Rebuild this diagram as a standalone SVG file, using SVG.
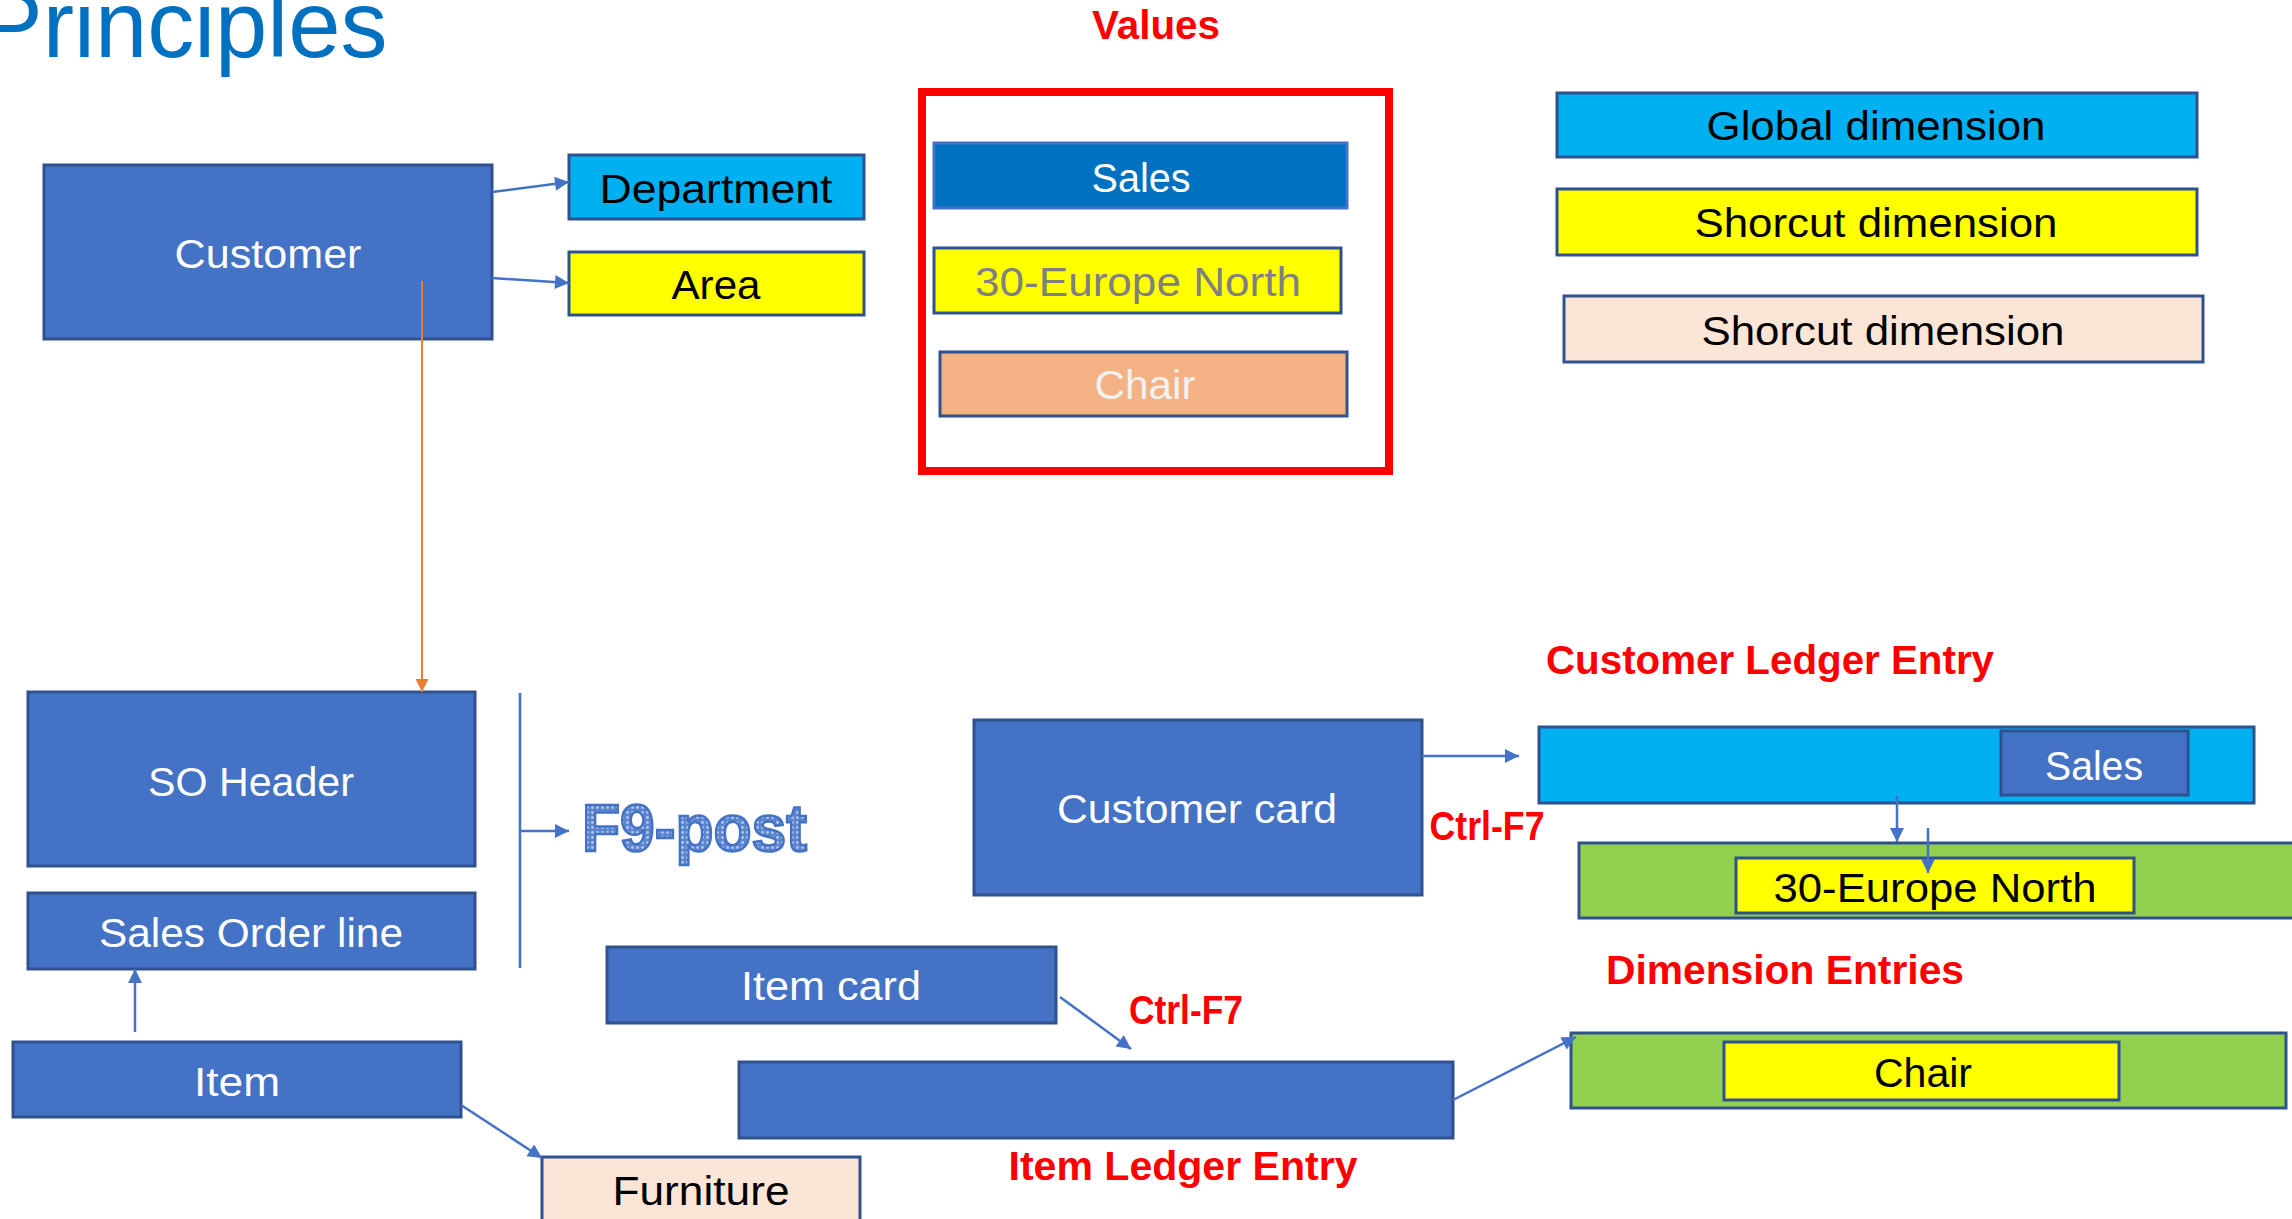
<svg xmlns="http://www.w3.org/2000/svg" width="2292" height="1219" viewBox="0 0 2292 1219">
<style>
.box{fill:#4472C4;stroke:#2F528F;stroke-width:3}
.cyan{fill:#00B0F0;stroke:#2F528F;stroke-width:3}
.yel{fill:#FFFF00;stroke:#2F528F;stroke-width:3}
.peach{fill:#FBE5D6;stroke:#2F528F;stroke-width:3}
.green{fill:#92D050;stroke:#2F528F;stroke-width:3}
.t{font-family:"Liberation Sans",Arial,sans-serif;font-size:40px;text-anchor:middle}
.w{fill:#FFFFFF}
.k{fill:#000000}
.red{fill:#FF0000;font-weight:bold}
.conn{stroke:#4472C4;stroke-width:2.5;fill:none}
</style>
<defs>
<marker id="ab" viewBox="0 0 10 10" refX="10" refY="5" markerWidth="16" markerHeight="14" markerUnits="userSpaceOnUse" orient="auto">
<path d="M0,0 L10,5 L0,10 z" fill="#4472C4"/>
</marker>
<marker id="ao" viewBox="0 0 10 10" refX="10" refY="5" markerWidth="15" markerHeight="13" markerUnits="userSpaceOnUse" orient="auto">
<path d="M0,0 L10,5 L0,10 z" fill="#ED7D31"/>
</marker>
<pattern id="dots" width="5" height="5" patternUnits="userSpaceOnUse">
<rect width="5" height="5" fill="#5B85CF"/>
<circle cx="2.5" cy="2.5" r="1.4" fill="#B4C7E7"/>
</pattern>
</defs>

<text x="-20" y="57" style="font-family:'Liberation Sans',Arial,sans-serif;font-size:94px;fill:#0070C0">Principles</text>

<g id="customer"><rect class="box" x="44" y="165" width="448" height="174"/><text class="t w" x="268" y="268" font-size="42" textLength="187" lengthAdjust="spacingAndGlyphs">Customer</text></g>
<g id="department"><rect class="cyan" x="569" y="155" width="295" height="64"/><text class="t k" x="716" y="203" textLength="233" lengthAdjust="spacingAndGlyphs">Department</text></g>
<g id="area"><rect class="yel" x="569" y="252" width="295" height="63"/><text class="t k" x="716" y="299" textLength="89" lengthAdjust="spacingAndGlyphs">Area</text></g>

<g id="values">
<text class="t red" x="1156" y="39" textLength="128" lengthAdjust="spacingAndGlyphs">Values</text>
<rect x="922" y="92" width="467" height="379" fill="none" stroke="#FF0000" stroke-width="8"/>
</g>
<g id="val-sales"><rect x="934" y="143" width="413" height="65" fill="#0070C0" stroke="#4472C4" stroke-width="3"/><text class="t w" x="1141" y="192" font-size="42" textLength="99" lengthAdjust="spacingAndGlyphs">Sales</text></g>
<g id="val-europe"><rect class="yel" x="934" y="248" width="407" height="65"/><text class="t" x="1138" y="296" fill="#808080" textLength="326" lengthAdjust="spacingAndGlyphs">30-Europe North</text></g>
<g id="val-chair"><rect x="940" y="352" width="407" height="64" fill="#F4B183" stroke="#2F528F" stroke-width="3"/><text class="t" x="1145" y="399" fill="#F2F2F2" textLength="101" lengthAdjust="spacingAndGlyphs">Chair</text></g>

<g id="legend-global"><rect class="cyan" x="1557" y="93" width="640" height="64"/><text class="t k" x="1876" y="140" font-size="42" textLength="339" lengthAdjust="spacingAndGlyphs">Global dimension</text></g>
<g id="legend-shortcut"><rect class="yel" x="1557" y="189" width="640" height="66"/><text class="t k" x="1876" y="237" font-size="42" textLength="363" lengthAdjust="spacingAndGlyphs">Shorcut dimension</text></g>
<g id="legend-shortcut2"><rect class="peach" x="1564" y="296" width="639" height="66"/><text class="t k" x="1883" y="345" font-size="42" textLength="363" lengthAdjust="spacingAndGlyphs">Shorcut dimension</text></g>

<g id="so-header"><rect class="box" x="28" y="692" width="447" height="174"/><text class="t w" x="251" y="796" font-size="42" textLength="206" lengthAdjust="spacingAndGlyphs">SO Header</text></g>
<g id="so-line"><rect class="box" x="28" y="893" width="447" height="76"/><text class="t w" x="251" y="947" font-size="42" textLength="304" lengthAdjust="spacingAndGlyphs">Sales Order line</text></g>
<g id="item"><rect class="box" x="13" y="1042" width="448" height="75"/><text class="t w" x="237" y="1096" font-size="42" textLength="86" lengthAdjust="spacingAndGlyphs">Item</text></g>
<g id="furniture"><rect class="peach" x="542" y="1157" width="318" height="80"/><text class="t k" x="701" y="1205" font-size="42" textLength="177" lengthAdjust="spacingAndGlyphs">Furniture</text></g>
<g id="f9-post"><text x="582" y="851" style="font-family:'Liberation Sans',Arial,sans-serif;font-weight:bold;font-size:66px" fill="url(#dots)" stroke="#4472C4" stroke-width="2.5" textLength="225" lengthAdjust="spacingAndGlyphs">F9-post</text></g>

<g id="item-card"><rect class="box" x="607" y="947" width="449" height="76"/><text class="t w" x="831" y="1000" font-size="42" textLength="180" lengthAdjust="spacingAndGlyphs">Item card</text></g>
<g id="item-ledger"><rect class="box" x="739" y="1062" width="714" height="76"/><text class="t red" x="1183" y="1180" textLength="349" lengthAdjust="spacingAndGlyphs">Item Ledger Entry</text></g>
<g id="ctrl-f7-item"><text class="t red" x="1186" y="1024" font-size="37" textLength="114" lengthAdjust="spacingAndGlyphs">Ctrl-F7</text></g>

<g id="customer-card"><rect class="box" x="974" y="720" width="448" height="175"/><text class="t w" x="1197" y="823" font-size="41" textLength="280" lengthAdjust="spacingAndGlyphs">Customer card</text></g>
<g id="ctrl-f7-cust"><text class="t red" x="1487" y="840" font-size="37" textLength="115" lengthAdjust="spacingAndGlyphs">Ctrl-F7</text></g>

<g id="cust-ledger">
<text class="t red" x="1770" y="674" textLength="448" lengthAdjust="spacingAndGlyphs">Customer Ledger Entry</text>
<rect class="cyan" x="1539" y="727" width="715" height="76"/>
<rect class="box" x="2001" y="731" width="187" height="64"/><text class="t w" x="2094" y="780" font-size="42" textLength="98" lengthAdjust="spacingAndGlyphs">Sales</text>
</g>
<g id="dim-europe"><rect class="green" x="1579" y="843" width="730" height="75"/><rect class="yel" x="1736" y="858" width="398" height="55"/><text class="t k" x="1935" y="902" textLength="323" lengthAdjust="spacingAndGlyphs">30-Europe North</text></g>

<g id="dim-entries">
<text class="t red" x="1785" y="984" textLength="358" lengthAdjust="spacingAndGlyphs">Dimension Entries</text>
<rect class="green" x="1571" y="1033" width="715" height="75"/><rect class="yel" x="1724" y="1042" width="395" height="58"/><text class="t k" x="1923" y="1087" textLength="98" lengthAdjust="spacingAndGlyphs">Chair</text>
</g>

<g id="connectors">
<line class="conn" x1="492" y1="192" x2="569" y2="182" stroke-width="3" marker-end="url(#ab)"/>
<line class="conn" x1="492" y1="278" x2="569" y2="283" stroke-width="3" marker-end="url(#ab)"/>
<line x1="422" y1="281" x2="422" y2="692" stroke="#ED7D31" stroke-width="2" marker-end="url(#ao)"/>
<line class="conn" x1="520" y1="693" x2="520" y2="968" stroke-width="2"/>
<line class="conn" x1="520" y1="831" x2="569" y2="831" marker-end="url(#ab)"/>
<line class="conn" x1="135" y1="1032" x2="135" y2="969" marker-end="url(#ab)"/>
<line class="conn" x1="461" y1="1105" x2="542" y2="1158" marker-end="url(#ab)"/>
<line class="conn" x1="1422" y1="756" x2="1519" y2="756" stroke-width="3" marker-end="url(#ab)"/>
<line class="conn" x1="1897" y1="796" x2="1897" y2="842" stroke-width="2" marker-end="url(#ab)"/>
<line class="conn" x1="1928" y1="828" x2="1928" y2="873" stroke-width="2" marker-end="url(#ab)"/>
<line class="conn" x1="1060" y1="997" x2="1131" y2="1049" marker-end="url(#ab)"/>
<line class="conn" x1="1453" y1="1100" x2="1576" y2="1037" marker-end="url(#ab)"/>
</g>
</svg>
